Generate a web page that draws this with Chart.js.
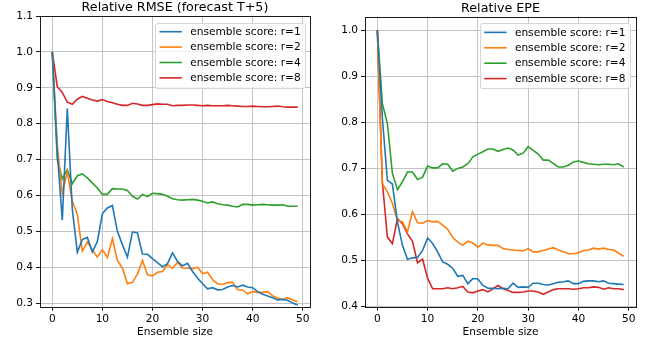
<!DOCTYPE html>
<html>
<head>
<meta charset="utf-8">
<script src="https://cdn.jsdelivr.net/npm/chart.js@4.4.1/dist/chart.umd.min.js"></script>
<style>
  body { margin: 0; background: #fff; }
  #wrap { position: relative; width: 656px; height: 344px; }
  canvas { position: absolute; top: 0; }
</style>
</head>
<body>
<div id="wrap">
  <canvas id="rmse" width="328" height="344" style="left:0"></canvas>
  <canvas id="epe" width="328" height="344" style="left:328px"></canvas>
</div>
<script>
// ensemble sizes (x axis)
const ensembleSize = [0,1,2,3,4,5,6,7,8,9,10,11,12,13,14,15,16,17,18,19,20,21,22,23,24,
  25,26,27,28,29,30,31,32,33,34,35,36,37,38,39,40,41,42,43,44,45,46,47,48,49];
const seriesLabels = ['ensemble score: r=1', 'ensemble score: r=2', 'ensemble score: r=4', 'ensemble score: r=8'];
const seriesColors = ['#1f77b4', '#ff7f0e', '#2ca02c', '#d62728'];

// Relative RMSE (forecast T+5)
const rmseR1 = [1.0, 0.72, 0.531, 0.842, 0.561, 0.442, 0.477, 0.483, 0.442, 0.472, 0.549, 0.565, 0.572, 0.500, 0.463,
  0.428, 0.498, 0.496, 0.437, 0.436, 0.424, 0.413, 0.401, 0.410, 0.440, 0.416, 0.404, 0.411, 0.388, 0.370,
  0.354, 0.340, 0.343, 0.337, 0.338, 0.345, 0.349, 0.345, 0.350, 0.345, 0.343, 0.332, 0.325, 0.320, 0.315,
  0.309, 0.310, 0.308, 0.300, 0.295];
const rmseR2 = [1.0, 0.74, 0.605, 0.666, 0.584, 0.547, 0.445, 0.470, 0.449, 0.428, 0.449, 0.427, 0.479, 0.419, 0.398,
  0.354, 0.358, 0.381, 0.419, 0.379, 0.376, 0.386, 0.388, 0.407, 0.397, 0.413, 0.398, 0.397, 0.396, 0.400,
  0.382, 0.386, 0.365, 0.354, 0.352, 0.357, 0.358, 0.337, 0.336, 0.326, 0.332, 0.330, 0.330, 0.332, 0.320,
  0.314, 0.310, 0.315, 0.309, 0.304];
const rmseR4 = [1.0, 0.700, 0.646, 0.672, 0.633, 0.655, 0.660, 0.649, 0.635, 0.621, 0.603, 0.603, 0.619, 0.618, 0.618,
  0.614, 0.598, 0.590, 0.603, 0.597, 0.606, 0.605, 0.603, 0.598, 0.591, 0.588, 0.587, 0.588, 0.589, 0.587,
  0.584, 0.579, 0.582, 0.577, 0.574, 0.573, 0.570, 0.568, 0.575, 0.575, 0.573, 0.574, 0.575, 0.574, 0.573,
  0.573, 0.574, 0.570, 0.570, 0.570];
const rmseR8 = [1.0, 0.903, 0.887, 0.860, 0.854, 0.868, 0.876, 0.871, 0.866, 0.863, 0.867, 0.862, 0.858, 0.854, 0.851,
  0.851, 0.857, 0.855, 0.851, 0.851, 0.853, 0.855, 0.854, 0.854, 0.850, 0.851, 0.851, 0.852, 0.852, 0.851,
  0.850, 0.851, 0.850, 0.850, 0.850, 0.851, 0.850, 0.849, 0.848, 0.848, 0.849, 0.848, 0.847, 0.847, 0.848,
  0.849, 0.847, 0.846, 0.846, 0.846];

// Relative EPE
const epeR1 = [1.0, 0.81, 0.674, 0.666, 0.584, 0.533, 0.503, 0.506, 0.507, 0.522, 0.549, 0.537, 0.519, 0.497, 0.492,
  0.483, 0.466, 0.468, 0.450, 0.461, 0.460, 0.446, 0.440, 0.440, 0.439, 0.440, 0.439, 0.451, 0.442, 0.443,
  0.442, 0.451, 0.451, 0.448, 0.447, 0.450, 0.453, 0.454, 0.456, 0.450, 0.450, 0.455, 0.456, 0.456, 0.454,
  0.456, 0.451, 0.450, 0.449, 0.448];
const epeR2 = [1.0, 0.667, 0.649, 0.624, 0.587, 0.584, 0.562, 0.606, 0.582, 0.581, 0.587, 0.584, 0.585, 0.577, 0.568,
  0.550, 0.540, 0.533, 0.542, 0.538, 0.529, 0.538, 0.534, 0.533, 0.533, 0.526, 0.524, 0.523, 0.522, 0.521,
  0.526, 0.519, 0.519, 0.522, 0.525, 0.528, 0.523, 0.519, 0.515, 0.515, 0.517, 0.522, 0.523, 0.527, 0.525,
  0.527, 0.524, 0.523, 0.516, 0.509];
const epeR4 = [1.0, 0.841, 0.797, 0.689, 0.654, 0.671, 0.692, 0.692, 0.676, 0.681, 0.705, 0.701, 0.701, 0.710, 0.709,
  0.694, 0.700, 0.703, 0.710, 0.725, 0.731, 0.736, 0.742, 0.742, 0.737, 0.741, 0.744, 0.740, 0.729, 0.733,
  0.747, 0.739, 0.731, 0.718, 0.718, 0.711, 0.703, 0.703, 0.707, 0.714, 0.716, 0.713, 0.710, 0.709, 0.708,
  0.709, 0.709, 0.708, 0.710, 0.703];
const epeR8 = [1.0, 0.671, 0.551, 0.537, 0.591, 0.580, 0.558, 0.542, 0.495, 0.503, 0.462, 0.439, 0.439, 0.439, 0.441,
  0.439, 0.441, 0.444, 0.432, 0.430, 0.434, 0.437, 0.432, 0.439, 0.446, 0.439, 0.435, 0.431, 0.431, 0.432,
  0.434, 0.434, 0.432, 0.427, 0.432, 0.437, 0.439, 0.439, 0.439, 0.438, 0.439, 0.441, 0.441, 0.443, 0.442,
  0.438, 0.441, 0.439, 0.439, 0.437];

const xTicks = [0, 10, 20, 30, 40, 50];
const rmseTicks = [0.3, 0.4, 0.5, 0.6, 0.7, 0.8, 0.9, 1.0, 1.1];
const epeTicks = [0.4, 0.5, 0.6, 0.7, 0.8, 0.9, 1.0];

const FONT = 'DejaVu Sans';
const LABEL_SIZE = 10.6;
const TITLE_SIZE = 12.7;

// draws the axes frame, title and the boxed legend inside the plot
const framePlugin = {
  id: 'frame',
  afterDraw(chart, args, opts) {
    const { ctx, chartArea: a } = chart;
    ctx.save();
    ctx.strokeStyle = '#1a1a1a';
    ctx.lineWidth = 1;
    ctx.strokeRect(Math.round(a.left) + 0.5, Math.round(a.top) + 0.5,
      Math.round(a.right - a.left), Math.round(a.bottom - a.top));

    // title
    ctx.fillStyle = '#000';
    ctx.font = TITLE_SIZE + 'px "' + FONT + '"';
    ctx.textAlign = 'center';
    ctx.textBaseline = 'middle';
    ctx.fillText(opts.title, (a.left + a.right) / 2, a.top - 8.5);

    // legend
    ctx.font = LABEL_SIZE + 'px "' + FONT + '"';
    const sets = chart.data.datasets;
    let tw = 0;
    sets.forEach(d => { tw = Math.max(tw, ctx.measureText(d.label).width); });
    const w = 4.3 + 22.4 + 8.3 + tw + 4.6;
    const h = 64.6;
    const x0 = a.right - opts.legendRight - w;
    const y0 = a.top + 6.7;
    ctx.beginPath();
    ctx.roundRect(Math.round(x0) + 0.5, Math.round(y0) + 0.5, Math.round(w), Math.round(h), 2.5);
    ctx.fillStyle = 'rgba(255,255,255,0.8)';
    ctx.fill();
    ctx.strokeStyle = '#d5d5d5';
    ctx.stroke();
    ctx.textAlign = 'left';
    sets.forEach((d, i) => {
      const yy = y0 + 9 + i * 15.4;
      ctx.strokeStyle = d.borderColor;
      ctx.lineWidth = 1.6;
      ctx.beginPath();
      ctx.moveTo(x0 + 4.3, yy);
      ctx.lineTo(x0 + 26.7, yy);
      ctx.stroke();
      ctx.fillStyle = '#000';
      ctx.fillText(d.label, x0 + 35, yy + 0.5);
    });
    ctx.restore();
  }
};

function makeChart(id, series, yTicks, yMin, yMax, title, pad) {
  const datasets = series.map((vals, i) => ({
    label: seriesLabels[i],
    data: ensembleSize.map((x, j) => ({ x: x, y: vals[j] })),
    borderColor: seriesColors[i],
    backgroundColor: seriesColors[i],
    borderWidth: 1.6,
    pointRadius: 0,
    tension: 0,
    fill: false
  }));
  return new Chart(document.getElementById(id), {
    type: 'line',
    data: { datasets: datasets },
    plugins: [framePlugin],
    options: {
      responsive: false,
      animation: false,
      events: [],
      layout: { padding: { top: pad.top, right: pad.right, left: 0, bottom: 0 } },
      plugins: {
        legend: { display: false },
        tooltip: { enabled: false },
        frame: { title: title, legendRight: pad.legendRight }
      },
      scales: {
        x: {
          type: 'linear',
          min: -2.45,
          max: 51.45,
          afterBuildTicks: s => { s.ticks = xTicks.map(v => ({ value: v })); },
          afterFit: s => { s.height = 37.3; },
          grid: { color: '#c4c4c4', lineWidth: 1, tickLength: 4, tickColor: '#1a1a1a', drawTicks: true },
          border: { display: false },
          ticks: { color: '#000', font: { family: FONT, size: LABEL_SIZE }, padding: 2.5, maxRotation: 0 },
          title: { display: true, text: 'Ensemble size', color: '#000', font: { family: FONT, size: LABEL_SIZE }, padding: { top: 0, bottom: 5 } }
        },
        y: {
          type: 'linear',
          min: yMin,
          max: yMax,
          afterBuildTicks: s => { s.ticks = yTicks.map(v => ({ value: v })); },
          afterFit: s => { s.width = pad.left; },
          grid: { color: '#c4c4c4', lineWidth: 1, tickLength: 4, tickColor: '#1a1a1a', drawTicks: true },
          border: { display: false },
          ticks: { color: '#000', font: { family: FONT, size: LABEL_SIZE }, padding: 3, callback: v => v.toFixed(1) }
        }
      }
    }
  });
}

makeChart('rmse', [rmseR1, rmseR2, rmseR4, rmseR8], rmseTicks, 0.29, 1.1,
  'Relative RMSE (forecast T+5)', { top: 16, right: 18, left: 40, legendRight: 4.7 });
makeChart('epe', [epeR1, epeR2, epeR4, epeR8], epeTicks, 0.4, 1.029,
  'Relative EPE', { top: 16.7, right: 20, left: 37, legendRight: 6 });
</script>
</body>
</html>
